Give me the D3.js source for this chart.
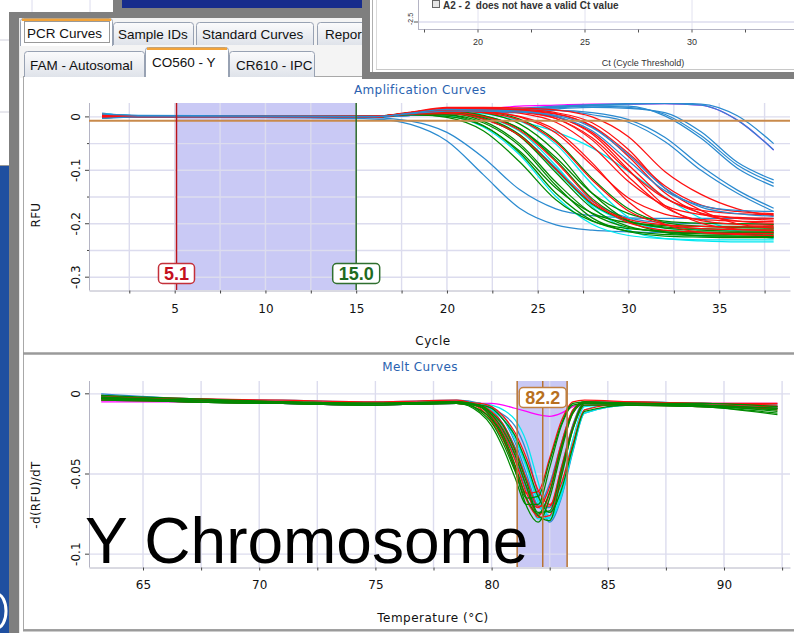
<!DOCTYPE html>
<html lang="en">
<head>
<meta charset="utf-8">
<title>Y Chromosome - PCR Curves</title>
<script src="https://cdnjs.cloudflare.com/ajax/libs/d3/7.8.5/d3.min.js"></script>
<style>
  body { margin: 0; background: #ffffff; }
  svg { display: block; }
  .tab { font-family: "Liberation Sans", Arial, sans-serif; font-size: 13.5px; fill: #111; }
  .ct { font-family: "Liberation Sans", Arial, sans-serif; fill: #333; }
</style>
</head>
<body>
<svg id="screen" width="794" height="633"></svg>
<script>
// ---------- values ----------
var tabRow1 = ["PCR Curves", "Sample IDs", "Standard Curves", "Report"];
var tabRow2 = ["FAM - Autosomal", "CO560 - Y", "CR610 - IPC"];

// amplification curves, RFU x 1000, sampled at these cycles
var ampCycles = [1, 3, 16, 18, 20, 22, 24, 26, 28, 30, 32, 34, 36, 38];
var ampGreen = [
  [2, 0, 1, 5, -1, -26, -84, -155, -195, -209, -213, -215, -216, -216],
  [-2, 1, 0, 6, 4, -16, -67, -143, -194, -214, -220, -222, -223, -223],
  [1, -1, 0, 4, 1, -17, -64, -133, -180, -198, -203, -205, -205, -206],
  [3, 0, 1, 6, 6, -8, -50, -122, -181, -207, -215, -217, -218, -219],
  [0, 2, 0, 5, 4, -11, -54, -128, -189, -215, -223, -225, -226, -226],
  [-1, 0, 1, 7, 10, -1, -33, -98, -163, -195, -206, -209, -210, -210],
  [2, -1, 0, 6, 8, -3, -36, -104, -171, -205, -216, -219, -220, -221],
  [1, 0, 1, 7, 11, 3, -22, -81, -153, -194, -208, -212, -214, -214],
  [0, 1, 1, 8, 14, 8, -13, -65, -143, -195, -216, -222, -223, -224],
  [-2, 0, 0, 8, 14, 10, -4, -44, -115, -172, -198, -205, -207, -208],
  [1, 2, 0, 6, 9, 2, -22, -76, -143, -181, -195, -199, -200, -201]
];
var ampCyan = [
  [6, 2, 1, 5, 2, -19, -71, -149, -201, -222, -228, -230, -230, -230],
  [4, 1, 0, 6, 8, -3, -35, -100, -165, -197, -208, -211, -212, -212],
  [-1, 0, 1, 6, 9, 0, -27, -91, -168, -212, -228, -232, -234, -234],
  [3, 0, 0, 6, 10, 6, -8, -28, -58, -102, -150, -190, -214, -228],
  [2, -1, 0, 7, 12, 8, -7, -51, -126, -188, -215, -223, -225, -226]
];
var ampRed = [
  [3, 1, 0, 5, 6, -4, -35, -98, -161, -192, -202, -205, -206, -206],
  [4, 0, 1, 6, 9, 1, -25, -84, -156, -198, -212, -216, -218, -218],
  [1, 2, 0, 7, 12, 8, -6, -47, -118, -176, -201, -209, -211, -212],
  [5, 1, 1, 7, 13, 10, 0, -30, -91, -152, -182, -192, -195, -196],
  [0, -1, 0, 6, 11, 9, 1, -25, -86, -159, -201, -216, -220, -222],
  [2, 0, 1, 7, 14, 12, 7, -10, -55, -121, -166, -183, -188, -190],
  [3, 1, 0, 8, 15, 15, 10, -3, -43, -112, -169, -194, -201, -203],
  [-1, 0, 1, 7, 14, 13, 9, -3, -39, -101, -152, -175, -181, -183],
  [2, 1, 0, 8, 16, 15, 12, 1, -32, -99, -166, -199, -210, -213],
  [4, 2, 1, 7, 14, 13, 10, 0, -29, -90, -151, -180, -190, -193],
  [1, 0, 0, 8, 16, 15, 13, 6, -18, -74, -142, -181, -195, -199],
  [3, 1, 1, 7, 14, 14, 11, 5, -17, -68, -129, -165, -177, -181],
  [0, 2, 0, 8, 16, 16, 14, 8, -11, -61, -133, -175, -200, -208],
  [2, 0, 1, 9, 18, 18, 17, 13, 0, -37, -102, -145, -172, -185]
];
// early blue curves (drawn under the green/red bundles)
var ampBlueEarly = [
  [5, 2, -4, -14, -45, -108, -171, -202, -212, -215, -216, -216, -216, -216],
  [3, 1, -2, -8, -29, -76, -136, -172, -185, -189, -190, -190, -190, -190],
  [7, 2, 0, 5, 6, -4, -34, -95, -158, -189, -198, -200, -200, -201]
];
// blue curves inside the red bundle
var ampBlueMid = [
  [5, 3, 1, 6, 11, 11, 9, 3, -20, -71, -133, -169, -181, -186],
  [-3, 0, 0, 7, 14, 13, 11, 1, -26, -82, -138, -166, -175, -177]
];
// late blue curves
var ampBlueLate = [
  [4, 1, 0, 3, 5, 7, 8, 12, 8, -5, -38, -92, -137, -171],
  [1, 0, 1, 3, 5, 7, 10, 12, 4, -10, -46, -100, -143, -177],
  [0, 1, 0, 3, 6, 9, 12, 15, 18, 16, 8, -28, -85, -118],
  [2, 0, 1, 3, 6, 10, 13, 17, 20, 18, 5, -35, -90, -124],
  [3, 1, 0, 4, 7, 10, 14, 18, 21, 20, 2, -40, -96, -130],
  [1, 0, 0, 3, 7, 11, 15, 19, 22, 24, 25, 22, -6, -62],
  [-2, 1, 0, 4, 8, 12, 16, 20, 23, 25, 26, 24, 2, -50]
];
var ampMagenta = [
  [1, 0, 0, 3, 8, 14, 20, 22, 24, 24, 25, 22, -6, -62]
];

// melt curves, -d(RFU)/dT x 1000, sampled at these temperatures
var meltTemps = [63.2, 67, 71, 75, 78.5, 79.5, 80, 80.5, 81, 81.5, 82, 82.5, 83, 83.5, 84, 86, 89, 92.3];
var meltGreen = [
  [-3, -4, -5, -6, -5, -11, -18, -31, -48, -65, -64, -42, -19, -6, -5, -6, -7, -9],
  [-2, -4, -6, -7, -6, -12, -20, -34, -52, -69, -69, -46, -20, -7, -6, -7, -8, -12],
  [-1, -3, -5, -6, -5, -8, -15, -26, -44, -65, -75, -61, -33, -11, -5, -6, -6, -8],
  [-4, -5, -6, -7, -6, -10, -16, -28, -47, -70, -80, -65, -36, -12, -6, -6, -7, -11],
  [-3, -4, -5, -6, -5, -7, -12, -20, -35, -55, -74, -73, -48, -21, -6, -6, -7, -9],
  [-2, -5, -6, -7, -6, -7, -9, -16, -26, -43, -64, -74, -60, -33, -11, -7, -8, -10],
  [-3, -5, -6, -6, -6, -8, -13, -23, -38, -58, -76, -79, -52, -22, -7, -7, -8, -13]
];
var meltRed = [
  [-2, -3, -4, -5, -4, -9, -17, -29, -46, -62, -61, -40, -17, -5, -4, -5, -6, -7],
  [-3, -4, -5, -6, -5, -8, -14, -25, -41, -62, -71, -58, -31, -10, -5, -6, -7, -8],
  [-4, -5, -6, -6, -6, -10, -16, -27, -45, -66, -76, -62, -34, -12, -6, -7, -7, -10],
  [-1, -4, -5, -6, -5, -7, -11, -19, -34, -53, -70, -70, -46, -20, -6, -5, -6, -6],
  [-3, -5, -6, -7, -6, -8, -13, -22, -37, -58, -77, -76, -50, -22, -7, -7, -8, -9],
  [-2, -3, -5, -6, -5, -6, -8, -14, -24, -40, -60, -69, -56, -31, -10, -6, -6, -8]
];
var meltCyan = [
  [-2, -4, -5, -6, -5, -7, -12, -21, -37, -58, -78, -77, -51, -22, -7, -6, -6, -8],
  [-3, -5, -6, -7, -6, -7, -10, -16, -28, -46, -68, -78, -64, -35, -12, -7, -7, -9],
  [-1, -4, -5, -6, -5, -6, -7, -10, -16, -30, -55, -78, -62, -32, -10, -5, -6, -7],
  [-2, -4, -5, -6, -5, -6, -8, -14, -26, -45, -66, -76, -58, -28, -8, -6, -6, -8]
];
var meltBlue = [
  [0, -3, -4, -5, -4, -6, -10, -19, -33, -53, -71, -71, -46, -19, -5, -5, -6, -7],
  [-2, -4, -6, -7, -6, -7, -9, -13, -20, -36, -62, -80, -65, -36, -12, -7, -7, -9],
  [-4, -5, -6, -6, -5, -8, -14, -24, -40, -60, -69, -56, -31, -10, -5, -6, -7, -8],
  [-3, -4, -5, -6, -5, -6, -9, -16, -30, -50, -70, -74, -48, -20, -6, -6, -7, -8]
];
var meltMagenta = [
  [-5, -5, -6, -7, -6, -6, -6, -7, -9, -11, -13, -14, -12, -8, -6, -6, -6, -6]
];

// axis ticks and markers
var ampXTicks = [5, 10, 15, 20, 25, 30, 35];
var ampXGrid = [2.5, 5, 7.5, 10, 12.5, 15, 17.5, 20, 22.5, 25, 27.5, 30, 32.5, 35, 37.5];
var ampYTicks = [0, -0.1, -0.2, -0.3];
var ampYGrid = [0, -0.05, -0.1, -0.15, -0.2, -0.25, -0.3];
var meltXTicks = [65, 70, 75, 80, 85, 90];
var meltXGrid = [65, 67.5, 70, 72.5, 75, 77.5, 80, 82.5, 85, 87.5, 90, 92.5];
var meltYTicks = [0, -0.05, -0.1];
var meltYGrid = [0, -0.05, -0.1];
var baselineStart = 5.1, baselineEnd = 15.0, threshold = -0.007;
var meltPeak = 82.2, meltLow = 81.1, meltHigh = 83.25;
var ctTicks = [20, 25, 30];
var ctGrid = [17.5, 20, 22.5, 25, 27.5, 30, 32.5, 35];
var ctYTicks = [-2.5];

var colors = { green: "#008a00", red: "#ff1010", cyan: "#00e8f0", blue: "#2b8bd0", magenta: "#ff00ff" };
var uiFont = '"DejaVu Sans", Verdana, sans-serif';

var svg = d3.select("#screen");
var defs = svg.append("defs");
var grad = defs.append("linearGradient").attr("id", "tabgrad").attr("x1", 0).attr("y1", 0).attr("x2", 0).attr("y2", 1);
grad.append("stop").attr("offset", "0%").attr("stop-color", "#fbfbfc");
grad.append("stop").attr("offset", "100%").attr("stop-color", "#dfe3ea");

// ---------- windows behind ----------
svg.append("rect").attr("width", 794).attr("height", 633).attr("fill", "#ffffff");
[32, 90].forEach(function(x) {
  svg.append("line").attr("x1", x).attr("x2", x).attr("y1", 0).attr("y2", 12).attr("stroke", "#dcdcee");
});
[40, 112].forEach(function(y) {
  svg.append("line").attr("x1", 0).attr("x2", 9).attr("y1", y).attr("y2", y).attr("stroke", "#d0d0dc");
});
svg.append("line").attr("x1", 0).attr("x2", 9).attr("y1", 165.5).attr("y2", 165.5).attr("stroke", "#999");
svg.append("rect").attr("x", 0).attr("y", 166).attr("width", 9).attr("height", 467).attr("fill", "#1f4fa0");
svg.append("ellipse").attr("cx", -3).attr("cy", 611).attr("rx", 9).attr("ry", 17)
  .attr("fill", "none").attr("stroke", "#ffffff").attr("stroke-width", 3);

// ---------- main window frame ----------
svg.append("rect").attr("x", 9).attr("y", 12).attr("width", 10).attr("height", 621).attr("fill", "#7f7f7f");
svg.append("rect").attr("x", 9).attr("y", 12).attr("width", 361).attr("height", 6).attr("fill", "#7f7f7f");
svg.append("rect").attr("x", 113).attr("y", 0).attr("width", 257).attr("height", 12).attr("fill", "#7f7f7f");
svg.append("rect").attr("x", 122).attr("y", 0).attr("width", 240).attr("height", 8).attr("fill", "#172c8c");
svg.append("rect").attr("x", 19).attr("y", 18).attr("width", 343).attr("height", 60).attr("fill", "#f4f4f4");
svg.append("line").attr("x1", 19.5).attr("x2", 19.5).attr("y1", 18).attr("y2", 633).attr("stroke", "#e8e8e8");

// chart panel
svg.append("rect").attr("x", 23.5).attr("y", 76.5).attr("width", 790).attr("height", 553)
  .attr("fill", "#ffffff").attr("stroke", "#a8a8a8");
svg.append("line").attr("x1", 23).attr("x2", 794).attr("y1", 353.5).attr("y2", 353.5)
  .attr("stroke", "#9a9a9a").attr("stroke-width", 2.5);
svg.append("line").attr("x1", 23).attr("x2", 794).attr("y1", 630.5).attr("y2", 630.5)
  .attr("stroke", "#9a9a9a").attr("stroke-width", 2);

// ---------- tabs ----------
defs.append("clipPath").attr("id", "winclip").append("rect")
  .attr("x", 19).attr("y", 0).attr("width", 343).attr("height", 80);
var tabs = svg.append("g").attr("clip-path", "url(#winclip)");

function tab(x, y, w, bottom, label, textX, textY, selected) {
  var p = "M" + x + "," + bottom + "V" + (y + 3) + "Q" + x + "," + y + " " + (x + 3) + "," + y +
    "H" + (x + w - 3) + "Q" + (x + w) + "," + y + " " + (x + w) + "," + (y + 3) + "V" + bottom;
  tabs.append("path").attr("d", p).attr("fill", selected ? "#ffffff" : "url(#tabgrad)").attr("stroke", "#98a2b3");
  if (selected) {
    tabs.append("path").attr("d", "M" + (x + 1.5) + "," + (y + 1.2) + "H" + (x + w - 1.5))
      .attr("stroke", "#f2a33a").attr("stroke-width", 2.4);
  }
  tabs.append("text").attr("class", "tab").attr("x", textX).attr("y", textY).text(label);
}
tab(113.5, 22.5, 80, 45, tabRow1[1], 118, 38.5, false);
tab(196.5, 22.5, 117, 45, tabRow1[2], 202, 38.5, false);
tab(317.5, 22.5, 60, 45, tabRow1[3], 325, 38.5, false);
tab(20.5, 18.5, 92, 46, tabRow1[0], 27, 37.5, true);
tabs.append("rect").attr("x", 24.5).attr("y", 21.5).attr("width", 85).attr("height", 21)
  .attr("fill", "none").attr("stroke", "#333").attr("stroke-dasharray", "1,1");
tab(24.5, 51.5, 120, 77, tabRow2[0], 30, 70, false);
tab(229.5, 51.5, 85, 77, tabRow2[2], 236, 70, false);
tab(145.5, 47.5, 83, 77, tabRow2[1], 152, 66.5, true);

// ---------- Ct window (top right) ----------
var ctX = d3.scaleLinear().domain([20, 30]).range([478, 692]);
var ctY = d3.scaleLinear().domain([-2.5, -2.82]).range([22, 29]);
var ct = svg.append("g");
ct.append("rect").attr("x", 370).attr("y", 0).attr("width", 424).attr("height", 72).attr("fill", "#ffffff");
ct.append("rect").attr("x", 362).attr("y", 0).attr("width", 8).attr("height", 79).attr("fill", "#7f7f7f");
ct.append("rect").attr("x", 362).attr("y", 72).attr("width", 432).attr("height", 7).attr("fill", "#7f7f7f");
ct.append("line").attr("x1", 372.5).attr("x2", 372.5).attr("y1", 0).attr("y2", 72).attr("stroke", "#b0b0b0");
ct.append("line").attr("x1", 376.5).attr("x2", 376.5).attr("y1", 0).attr("y2", 70).attr("stroke", "#dadada");
ct.append("line").attr("x1", 376).attr("x2", 794).attr("y1", 69.5).attr("y2", 69.5).attr("stroke", "#c8c8c8");
ct.selectAll(null).data(ctTicks).enter().append("line")
  .attr("x1", function(d) { return ctX(d); }).attr("x2", function(d) { return ctX(d); })
  .attr("y1", 0).attr("y2", ctY.range()[1]).attr("stroke", "#e2e2f0");
ct.selectAll(null).data(ctYTicks).enter().append("line")
  .attr("x1", 418).attr("x2", 794).attr("y1", function(d) { return ctY(d); }).attr("y2", function(d) { return ctY(d); })
  .attr("stroke", "#dcdcee").attr("stroke-width", 1.4);
ct.append("line").attr("x1", 418.5).attr("x2", 418.5).attr("y1", 0).attr("y2", 29.5).attr("stroke", "#b4b4c4");
ct.append("line").attr("x1", 418).attr("x2", 794).attr("y1", 29.5).attr("y2", 29.5).attr("stroke", "#b4b4c4");
ct.selectAll(null).data(ctYTicks).enter().append("line")
  .attr("x1", 414).attr("x2", 418).attr("y1", function(d) { return ctY(d); }).attr("y2", function(d) { return ctY(d); })
  .attr("stroke", "#555");
ct.selectAll(null).data(ctYTicks).enter().append("text").attr("class", "ct")
  .attr("transform", function(d) { return "translate(413," + (ctY(d) - 3) + ") rotate(-90)"; })
  .attr("text-anchor", "middle").attr("font-size", 7).text(function(d) { return String(d); });
ct.selectAll(null).data(ctGrid).enter().append("line")
  .attr("x1", function(d) { return ctX(d); }).attr("x2", function(d) { return ctX(d); })
  .attr("y1", 29.5).attr("y2", 32.5).attr("stroke", "#555");
ct.selectAll(null).data(ctTicks).enter().append("text").attr("class", "ct")
  .attr("x", function(d) { return ctX(d); }).attr("y", 45).attr("text-anchor", "middle")
  .attr("font-size", 9).text(function(d) { return d; });
ct.append("text").attr("class", "ct").attr("x", 643).attr("y", 66).attr("text-anchor", "middle")
  .attr("font-size", 9).text("Ct (Cycle Threshold)");
ct.append("rect").attr("x", 432.5).attr("y", 0.5).attr("width", 7).attr("height", 7)
  .attr("fill", "#e6e6e6").attr("stroke", "#666");
ct.append("text").attr("class", "ct").attr("x", 443).attr("y", 8.5).attr("font-size", 10)
  .attr("font-weight", "bold").style("white-space", "pre").attr("fill", "#3c3c3c")
  .text("A2 - 2  does not have a valid Ct value");

// ---------- chart helper ----------
function drawChart(cfg) {
  var x = cfg.x, y = cfg.y, g = svg.append("g");
  var x0 = x.range()[0], x1 = x.range()[1], yTop = y.range()[0], yBot = y.range()[1];

  g.append("text").attr("x", 420).attr("y", cfg.titleY).attr("text-anchor", "middle")
    .attr("font-family", uiFont).attr("font-size", 12).attr("letter-spacing", 0.4)
    .attr("fill", "#2a62b0").text(cfg.title);

  // shaded band
  g.append("rect").attr("x", x(cfg.band[0])).attr("y", yTop)
    .attr("width", x(cfg.band[1]) - x(cfg.band[0])).attr("height", yBot - yTop).attr("fill", "#c9c9f5");

  // grid
  g.selectAll(null).data(cfg.xGrid).enter().append("line")
    .attr("x1", function(d) { return x(d); }).attr("x2", function(d) { return x(d); })
    .attr("y1", yTop).attr("y2", yBot).attr("stroke", "#dcdcee").attr("stroke-width", 1.4);
  g.selectAll(null).data(cfg.yGrid).enter().append("line")
    .attr("x1", x0).attr("x2", x1).attr("y1", function(d) { return y(d); }).attr("y2", function(d) { return y(d); })
    .attr("stroke", "#dcdcee").attr("stroke-width", 1.4);

  // x axis
  var xa = g.append("g").attr("transform", "translate(0," + (yBot + 0.5) + ")")
    .call(d3.axisBottom(x).tickValues(cfg.xGrid).tickSize(3).tickSizeOuter(0).tickPadding(cfg.xPad)
      .tickFormat(function(d) { return cfg.xTicks.indexOf(d) >= 0 ? String(d) : ""; }));
  xa.select(".domain").attr("stroke", "#b4b4c4");
  xa.selectAll(".tick line").attr("stroke", "#444");
  xa.selectAll("text").attr("font-family", uiFont).attr("font-size", 12).attr("fill", "#111");

  // y axis
  g.append("line").attr("x1", x0 + 0.5).attr("x2", x0 + 0.5).attr("y1", yTop).attr("y2", yBot + 0.5).attr("stroke", "#b4b4c4");
  g.selectAll(null).data(cfg.yGrid).enter().append("line")
    .attr("x1", function(d) { return x0 - (cfg.yTicks.indexOf(d) >= 0 ? 4 : 2); }).attr("x2", x0)
    .attr("y1", function(d) { return y(d); }).attr("y2", function(d) { return y(d); })
    .attr("stroke", "#444");
  g.selectAll(null).data(cfg.yTicks).enter().append("text")
    .attr("transform", function(d) { return "translate(79.5," + y(d) + ") rotate(-90)"; })
    .attr("text-anchor", "middle").attr("font-family", uiFont).attr("font-size", 12).attr("fill", "#111")
    .text(function(d) { return String(d); });

  // axis titles
  g.append("text").attr("transform", "translate(40," + cfg.yLabelY + ") rotate(-90)")
    .attr("text-anchor", "middle").attr("font-family", uiFont).attr("font-size", 12)
    .attr("letter-spacing", 0.3).attr("fill", "#111").text(cfg.yLabel);
  g.append("text").attr("x", 433).attr("y", cfg.xLabelY).attr("text-anchor", "middle")
    .attr("font-family", uiFont).attr("font-size", 12).attr("letter-spacing", 0.5)
    .attr("fill", "#111").text(cfg.xLabel);

  // curves
  defs.append("clipPath").attr("id", cfg.id).append("rect")
    .attr("x", x0).attr("y", yTop).attr("width", x1 - x0).attr("height", yBot - yTop);
  var line = d3.line()
    .x(function(d, i) { return x(cfg.xs[i]); })
    .y(function(d) { return y(d / 1000); })
    .curve(d3.curveMonotoneX);
  var cg = g.append("g").attr("clip-path", "url(#" + cfg.id + ")");
  cfg.series.forEach(function(s) {
    cg.selectAll(null).data(s.data).enter().append("path")
      .attr("d", line).attr("fill", "none").attr("stroke", s.color)
      .attr("stroke-width", 1.25).attr("stroke-linejoin", "round");
  });
  return g;
}

function markerLabel(g, cx, cy, w, label, color, border) {
  g.append("rect").attr("x", cx - w / 2).attr("y", cy - 10).attr("width", w).attr("height", 20)
    .attr("rx", 4).attr("fill", "#ffffff").attr("stroke", border).attr("stroke-width", 1.5);
  g.append("text").attr("x", cx).attr("y", cy + 6.5).attr("text-anchor", "middle")
    .attr("font-family", '"Liberation Sans", Arial, sans-serif').attr("font-weight", "bold")
    .attr("font-size", 18).attr("fill", color).text(label);
}

// ---------- amplification chart ----------
var ampX = d3.scaleLinear().domain([0.28, 38.9]).range([89, 790]);
var ampY = d3.scaleLinear().domain([0.026, -0.324]).range([103, 290]);
var amp = drawChart({
  id: "ampclip", x: ampX, y: ampY, xs: ampCycles, title: "Amplification Curves", titleY: 94,
  band: [baselineStart, baselineEnd], xGrid: ampXGrid, xTicks: ampXTicks, yGrid: ampYGrid, yTicks: ampYTicks,
  xPad: 11, yLabel: "RFU", yLabelY: 215, xLabel: "Cycle", xLabelY: 345,
  series: [
    { data: ampMagenta, color: colors.magenta },
    { data: ampBlueLate, color: colors.blue },
    { data: ampBlueEarly, color: colors.blue },
    { data: ampCyan, color: colors.cyan },
    { data: ampGreen, color: colors.green },
    { data: ampRed, color: colors.red },
    { data: ampBlueMid, color: colors.blue }
  ]
});
amp.append("line").attr("x1", 89).attr("x2", 790).attr("y1", ampY(threshold)).attr("y2", ampY(threshold))
  .attr("stroke", "#c98a4b").attr("stroke-width", 2);
amp.append("line").attr("x1", ampX(baselineStart)).attr("x2", ampX(baselineStart)).attr("y1", 103).attr("y2", 290)
  .attr("stroke", "#b8141c").attr("stroke-width", 1.5);
amp.append("line").attr("x1", ampX(baselineEnd)).attr("x2", ampX(baselineEnd)).attr("y1", 103).attr("y2", 290)
  .attr("stroke", "#2c6a2c").attr("stroke-width", 1.5);
markerLabel(amp, ampX(baselineStart), 273.5, 36, baselineStart.toFixed(1), "#c4101e", "#c4303a");
markerLabel(amp, ampX(baselineEnd), 273.5, 47, baselineEnd.toFixed(1), "#1f6b1f", "#2f6f2f");

// ---------- melt chart ----------
var meltX = d3.scaleLinear().domain([62.676, 92.84]).range([89, 790]);
var meltY = d3.scaleLinear().domain([0.008, -0.108]).range([381, 567]);
var melt = drawChart({
  id: "meltclip", x: meltX, y: meltY, xs: meltTemps, title: "Melt Curves", titleY: 371,
  band: [meltLow, meltHigh], xGrid: meltXGrid, xTicks: meltXTicks, yGrid: meltYGrid, yTicks: meltYTicks,
  xPad: 10, yLabel: "-d(RFU)/dT", yLabelY: 495, xLabel: "Temperature (\u00B0C)", xLabelY: 622,
  series: [
    { data: meltMagenta, color: colors.magenta },
    { data: meltBlue, color: colors.blue },
    { data: meltCyan, color: colors.cyan },
    { data: meltRed, color: colors.red },
    { data: meltGreen, color: colors.green }
  ]
});
[meltLow, meltPeak, meltHigh].forEach(function(t) {
  melt.append("line").attr("x1", meltX(t)).attr("x2", meltX(t)).attr("y1", 381).attr("y2", 567)
    .attr("stroke", "#b87333").attr("stroke-width", 1.5);
});
markerLabel(melt, meltX(meltPeak), 397.5, 47, meltPeak.toFixed(1), "#b8701e", "#c08040");

// ---------- slide caption ----------
svg.append("text").attr("x", 85).attr("y", 563)
  .attr("font-family", '"Liberation Sans", Arial, sans-serif').attr("font-size", 64)
  .attr("fill", "#000").text("Y Chromosome");
</script>
</body>
</html>
